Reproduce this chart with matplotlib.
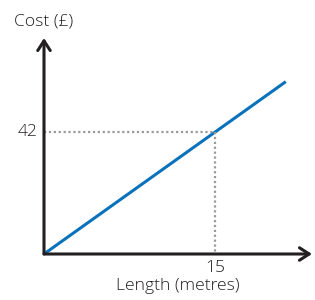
import matplotlib
matplotlib.use("Agg")
import matplotlib.pyplot as plt

# Data
length = [0, 21.2]
cost_per_metre = 2.8
cost = [v * cost_per_metre for v in length]
mark_x = 15
mark_y = 42
x_label = "Length (metres)"
y_label = "Cost (£)"

plt.rcParams['font.family'] = ['Open Sans', 'DejaVu Sans']

W, H = 315, 300
fig = plt.figure(figsize=(W / 100, H / 100), dpi=100)
x0, y0 = 44, 254
x1, y1 = 312, 38
ax = fig.add_axes([x0 / W, (H - y0) / H, (x1 - x0) / W, (y0 - y1) / H])
ax.set_xlim(0, 23.5)
ax.set_ylim(0, 74.4)
ax.axis('off')

axis_col = '#231f20'
ax.annotate('', xy=(1.0, 0), xytext=(0, 0), xycoords='axes fraction',
            arrowprops=dict(arrowstyle='->,head_length=0.7,head_width=0.45', lw=2.2, color=axis_col,
                            shrinkA=0, shrinkB=0))
ax.annotate('', xy=(0, 1.0), xytext=(0, 0), xycoords='axes fraction',
            arrowprops=dict(arrowstyle='->,head_length=0.7,head_width=0.45', lw=2.2, color=axis_col,
                            shrinkA=0, shrinkB=0))

ax.plot(length, cost, color='#0a72bd', lw=2.2, solid_capstyle='butt', clip_on=False)
ax.plot([0, mark_x], [mark_y, mark_y], color='#9a9a9a', lw=1.6, ls=(0, (1, 1.2)), clip_on=False)
ax.plot([mark_x, mark_x], [mark_y, 0], color='#9a9a9a', lw=1.6, ls=(0, (1, 1.2)), clip_on=False)

fs = 12.6
tk = dict(fontsize=fs, color='#231f20', fontweight='light')
ax.text(-0.6, mark_y, str(mark_y), ha='right', va='center', **tk)
ax.text(mark_x, -2.2, str(mark_x), ha='center', va='top', **tk)
fig.text(178 / W, 1 - 286 / H, x_label, ha='center', va='center', **tk)
fig.text(14 / W, 1 - 22 / H, y_label, ha='left', va='center', **tk)

fig.savefig('out.png', dpi=100)
